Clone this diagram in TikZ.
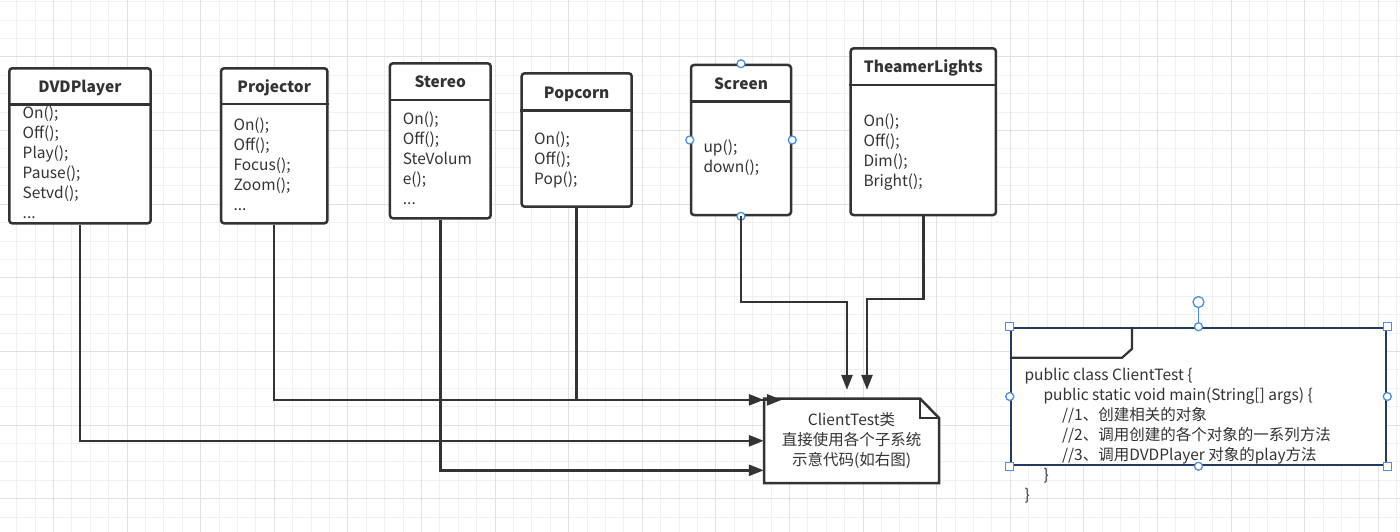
\documentclass[tikz,border=0pt]{standalone}
\usepackage{fontspec}
\setmainfont{Noto Sans CJK SC}
\usetikzlibrary{arrows.meta}
\definecolor{boxc}{HTML}{333333}
\definecolor{txtc}{HTML}{333333}
\definecolor{framec}{HTML}{23395D}
\definecolor{handlec}{HTML}{4A90E2}
\definecolor{gridminor}{HTML}{F0F0F0}
\definecolor{gridmajor}{HTML}{E0E0E0}
\tikzset{
  classbox/.style={draw=boxc,line width=2.5pt,rounded corners=3pt,fill=white,inner sep=0pt},
  divline/.style={draw=boxc,line width=2.5pt},
  title/.style={font=\fontsize{15.5}{20}\selectfont\bfseries,text=txtc,inner sep=0pt,anchor=base},
  ops/.style={font=\fontsize{15.5}{20}\selectfont,text=txtc,inner sep=0pt,align=left,anchor=base west},
  conn/.style={draw=boxc,line width=2.5pt,-{Triangle[length=15pt,width=11pt]}},
  handle/.style={draw=handlec,fill=white,line width=1.3pt}
}

\begin{document}
\begin{tikzpicture}[x=1pt,y=-1pt]
  \useasboundingbox (0,0) rectangle (1400,532);
  % fondo cuadriculado
  \fill[white] (0,0) rectangle (1400,532);
  \foreach \gx in {16.7,35.1,...,1400} \draw[gridminor,line width=1pt] (\gx,0) -- (\gx,532);
  \foreach \gy in {1.8,20.2,...,532} \draw[gridminor,line width=1pt] (0,\gy) -- (1400,\gy);
  \foreach \gx in {53.5,127.1,...,1400} \draw[gridmajor,line width=1pt] (\gx,0) -- (\gx,532);
  \foreach \gy in {57,130.6,...,532} \draw[gridmajor,line width=1pt] (0,\gy) -- (1400,\gy);

  % DVDPlayer (ops: base = ultima linea)
  \node[classbox,minimum width=141.4pt,minimum height=155pt] (dvd) at (80,145.8) {};
  \draw[divline] (dvd.west |- 0,104.3) -- (dvd.east |- 0,104.3);
  \node[title] (dvd-t) at (80,92.7) {DVDPlayer};
  \node[ops] (dvd-o) at (22.5,218.8) {On();\\Off();\\Play();\\Pause();\\Setvd();\\...};
  % Projector
  \node[classbox,minimum width=106.3pt,minimum height=155pt] (proj) at (274.2,145.8) {};
  \draw[divline] (proj.west |- 0,104) -- (proj.east |- 0,104);
  \node[title] (proj-t) at (274.2,92.5) {Projector};
  \node[ops] (proj-o) at (233.3,210) {On();\\Off();\\Focus();\\Zoom();\\...};
  % Stereo
  \node[classbox,minimum width=100.7pt,minimum height=155pt] (stereo) at (440.3,140.8) {};
  \draw[divline] (stereo.west |- 0,100) -- (stereo.east |- 0,100);
  \node[title] (stereo-t) at (440.3,87.3) {Stereo};
  \node[ops] (stereo-o) at (402.7,204.3) {On();\\Off();\\SteVolum\\e();\\...};
  % Popcorn
  \node[classbox,minimum width=110pt,minimum height=133.4pt] (pop) at (576.7,140) {};
  \draw[divline] (pop.west |- 0,110.7) -- (pop.east |- 0,110.7);
  \node[title] (pop-t) at (576.7,98.3) {Popcorn};
  \node[ops] (pop-o) at (534,184.3) {On();\\Off();\\Pop();};
  % Screen
  \node[classbox,minimum width=100pt,minimum height=150pt] (screen) at (741,140) {};
  \draw[divline] (screen.west |- 0,101.7) -- (screen.east |- 0,101.7);
  \node[title] (screen-t) at (741,89.3) {Screen};
  \node[ops] (screen-o) at (703.3,172.7) {up();\\down();};
  \foreach \a in {north,south,west,east} \draw[handle] (screen.\a) circle (4pt);
  % TheamerLights
  \node[classbox,minimum width=145.3pt,minimum height=166.7pt] (lights) at (923.3,131.7) {};
  \draw[divline] (lights.west |- 0,85) -- (lights.east |- 0,85);
  \node[title] (lights-t) at (923.3,72.3) {TheamerLights};
  \node[ops] (lights-o) at (863.3,186.7) {On();\\Off();\\Dim();\\Bright();};

  % nota ClientTest
  \draw[divline,fill=white,line join=miter] (764,398.5) -- (920,398.5) -- (939,418) -- (939,483) -- (764,483) -- cycle;
  \draw[divline,line join=miter] (920,398.5) -- (920,418) -- (939,418);
  \node[minimum width=175pt,minimum height=84.5pt,inner sep=0pt,align=center,text=txtc,
        font=\fontsize{15.5}{20}\selectfont] (ct) at (851.5,440.8) {ClientTest类\\直接使用各个子系统\\示意代码(如右图)};

  % conectores
  \draw[conn] (dvd.south) |- (ct.west);
  \draw[conn] (stereo.south) |- ([yshift=-29.5pt]ct.west);
  \draw[conn] (proj.south) |- ([yshift=-1.5pt]ct.north west);
  \draw[conn] (pop.south) |- ([xshift=18pt,yshift=-1.5pt]ct.north west);
  \draw[conn] (screen.south) -- (screen.south |- 0,302) -| ([xshift=-4.5pt,yshift=8.5pt]ct.north);
  \draw[conn] (lights.south) -- (lights.south |- 0,299) -| ([xshift=15.5pt,yshift=8.5pt]ct.north);

  % marco con el codigo
  \node[draw=framec,line width=2.5pt,fill=white,minimum width=375pt,minimum height=137pt,inner sep=0pt] (code) at (1198.5,396.5) {};
  \draw[divline,line width=2.2pt] ([yshift=-31pt]code.north west) -- ([xshift=112.3pt,yshift=-31pt]code.north west)
    -- ([xshift=122.3pt,yshift=-22pt]code.north west) -- ([xshift=122.3pt]code.north west);
  \node[ops] (code-t) at (1024.3,500.7) {public class ClientTest \{\\
    \hspace*{19pt}public static void main(String[] args) \{\\
    \hspace*{37.5pt}//1、创建相关的对象\\
    \hspace*{37.5pt}//2、调用创建的各个对象的一系列方法\\
    \hspace*{37.5pt}//3、调用DVDPlayer 对象的play方法\\
    \hspace*{19pt}\}\\
    \}};
  \draw[handlec,line width=1.3pt] (code.north) -- ([yshift=24.7pt]code.north);
  \draw[handle] ([yshift=24.7pt]code.north) circle (5.5pt);
  \foreach \a in {north west,north east,south west,south east}
    \draw[handle] ([xshift=-4pt,yshift=-4pt]code.\a) rectangle ++(8pt,8pt);
  \foreach \a in {north,south,west,east} \draw[handle] (code.\a) circle (4pt);
\end{tikzpicture}
\end{document}
